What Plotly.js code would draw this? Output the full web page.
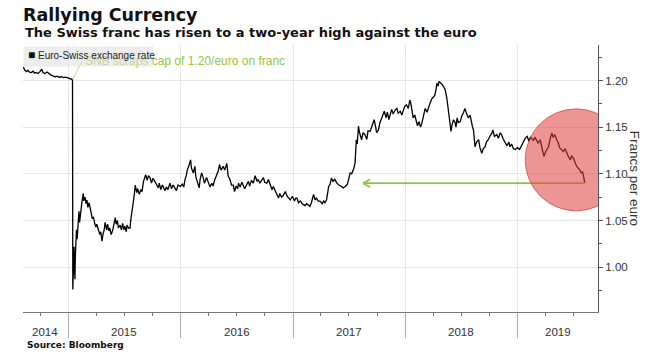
<!DOCTYPE html>
<html><head><meta charset="utf-8">
<script src="https://cdn.plot.ly/plotly-3.0.1.min.js"></script>
<style>html,body{margin:0;padding:0;background:#fff}#chart{width:655px;height:358px}</style>
</head><body><div id="chart"></div>
<script>
// ---- Data (EUR/CHF) ----
const dates2014 = ['2014-08-07','2014-08-12','2014-08-18','2014-08-22','2014-08-27','2014-09-02','2014-09-08','2014-09-12','2014-09-18','2014-09-24','2014-09-30','2014-10-06','2014-10-10','2014-10-16','2014-10-23','2014-10-29','2014-11-04','2014-11-11','2014-11-18','2014-11-25','2014-12-02','2014-12-09','2014-12-16','2014-12-23','2014-12-30'];
const rates2014 = [1.2143,1.2110,1.2095,1.2110,1.2090,1.2085,1.2100,1.2080,1.2085,1.2075,1.2095,1.2120,1.2085,1.2075,1.2090,1.2070,1.2060,1.2050,1.2040,1.2045,1.2035,1.2040,1.2030,1.2035,1.2025];

const dates2015 = ['2015-01-07','2015-01-14','2015-01-15','2015-01-16','2015-01-19','2015-01-21','2015-01-22','2015-01-23','2015-01-27','2015-01-29','2015-02-02','2015-02-04','2015-02-06','2015-02-10','2015-02-13','2015-02-18','2015-02-20','2015-02-24','2015-02-27','2015-03-02','2015-03-05','2015-03-09','2015-03-12','2015-03-16','2015-03-19','2015-03-23','2015-03-27','2015-03-31','2015-04-03','2015-04-08','2015-04-13','2015-04-16','2015-04-20','2015-04-23','2015-04-27','2015-04-30','2015-05-05','2015-05-08','2015-05-12','2015-05-15','2015-05-20','2015-05-25','2015-05-28','2015-06-02','2015-06-05','2015-06-09','2015-06-12','2015-06-18','2015-06-22','2015-06-26','2015-06-30','2015-07-03','2015-07-08','2015-07-10','2015-07-15','2015-07-20','2015-07-23','2015-07-27','2015-07-30','2015-08-03','2015-08-06','2015-08-11','2015-08-14','2015-08-19','2015-08-24','2015-08-28','2015-09-02','2015-09-09','2015-09-14','2015-09-18','2015-09-23','2015-09-28','2015-10-02','2015-10-05','2015-10-09','2015-10-15','2015-10-20','2015-10-23','2015-10-28','2015-11-02','2015-11-05','2015-11-10','2015-11-16','2015-11-20','2015-11-27','2015-12-02','2015-12-07','2015-12-14','2015-12-18','2015-12-23','2015-12-31'];
const rates2015 = [1.2020,1.2010,0.976,1.005,1.022,0.995,0.987,1.010,1.040,1.030,1.052,1.060,1.048,1.062,1.068,1.079,1.071,1.075,1.068,1.072,1.064,1.069,1.065,1.058,1.052,1.054,1.047,1.043,1.046,1.040,1.035,1.038,1.028,1.035,1.040,1.048,1.040,1.046,1.039,1.042,1.035,1.040,1.045,1.053,1.046,1.050,1.042,1.045,1.040,1.047,1.040,1.044,1.038,1.045,1.042,1.042,1.052,1.065,1.068,1.078,1.088,1.080,1.084,1.078,1.083,1.081,1.092,1.099,1.093,1.098,1.096,1.090,1.095,1.094,1.092,1.088,1.085,1.090,1.083,1.088,1.0865,1.082,1.086,1.083,1.090,1.084,1.088,1.085,1.082,1.088,1.0865];

const dates2016 = ['2016-01-06','2016-01-11','2016-01-15','2016-01-19','2016-01-22','2016-01-27','2016-02-02','2016-02-05','2016-02-11','2016-02-16','2016-02-19','2016-02-24','2016-03-01','2016-03-04','2016-03-09','2016-03-14','2016-03-18','2016-03-25','2016-03-30','2016-04-05','2016-04-11','2016-04-15','2016-04-21','2016-04-27','2016-05-02','2016-05-06','2016-05-11','2016-05-18','2016-05-23','2016-05-30','2016-06-03','2016-06-09','2016-06-14','2016-06-20','2016-06-24','2016-06-29','2016-07-04','2016-07-07','2016-07-12','2016-07-18','2016-07-22','2016-07-27','2016-08-02','2016-08-08','2016-08-12','2016-08-18','2016-08-24','2016-08-30','2016-09-05','2016-09-09','2016-09-14','2016-09-20','2016-09-26','2016-09-30','2016-10-07','2016-10-12','2016-10-18','2016-10-24','2016-10-28','2016-11-03','2016-11-09','2016-11-14','2016-11-18','2016-11-24','2016-11-30','2016-12-06','2016-12-12','2016-12-16','2016-12-22','2016-12-29'];
const rates2016 = [1.089,1.086,1.094,1.098,1.104,1.108,1.115,1.106,1.101,1.108,1.097,1.090,1.085,1.094,1.101,1.096,1.090,1.096,1.092,1.086,1.090,1.087,1.094,1.100,1.103,1.110,1.104,1.108,1.104,1.111,1.098,1.094,1.088,1.088,1.081,1.087,1.084,1.090,1.086,1.091,1.088,1.084,1.088,1.092,1.087,1.093,1.090,1.098,1.092,1.094,1.090,1.093,1.096,1.091,1.090,1.094,1.088,1.083,1.0865,1.082,1.078,1.074,1.079,1.075,1.077,1.081,1.076,1.074,1.072,1.076];

const dates2017 = ['2017-01-05','2017-01-09','2017-01-13','2017-01-18','2017-01-24','2017-01-30','2017-02-03','2017-02-08','2017-02-14','2017-02-20','2017-02-24','2017-03-01','2017-03-08','2017-03-13','2017-03-17','2017-03-23','2017-03-30','2017-04-05','2017-04-10','2017-04-14','2017-04-19','2017-04-24','2017-04-26','2017-05-01','2017-05-05','2017-05-10','2017-05-16','2017-05-23','2017-05-29','2017-06-05','2017-06-12','2017-06-19','2017-06-26','2017-06-30','2017-07-05','2017-07-10','2017-07-17','2017-07-21','2017-07-25','2017-07-28','2017-08-01','2017-08-04','2017-08-08','2017-08-11','2017-08-16','2017-08-22','2017-08-28','2017-09-01','2017-09-08','2017-09-13','2017-09-18','2017-09-21','2017-09-26','2017-09-29','2017-10-05','2017-10-10','2017-10-16','2017-10-20','2017-10-24','2017-10-30','2017-11-03','2017-11-08','2017-11-13','2017-11-17','2017-11-22','2017-11-29','2017-12-04','2017-12-08','2017-12-15','2017-12-20','2017-12-29'];
const rates2017 = [1.071,1.074,1.074,1.069,1.071,1.068,1.067,1.066,1.068,1.066,1.065,1.069,1.078,1.072,1.074,1.071,1.0705,1.068,1.071,1.069,1.072,1.082,1.0865,1.089,1.0955,1.092,1.094,1.090,1.088,1.087,1.085,1.0865,1.089,1.094,1.101,1.100,1.106,1.112,1.1365,1.132,1.151,1.145,1.140,1.1365,1.144,1.142,1.137,1.146,1.1455,1.150,1.154,1.158,1.150,1.144,1.147,1.155,1.160,1.163,1.167,1.160,1.166,1.158,1.165,1.169,1.164,1.1686,1.170,1.165,1.167,1.163,1.172];

const dates2018 = ['2018-01-04','2018-01-10','2018-01-15','2018-01-18','2018-01-23','2018-01-26','2018-01-31','2018-02-05','2018-02-09','2018-02-14','2018-02-19','2018-02-23','2018-02-28','2018-03-06','2018-03-12','2018-03-16','2018-03-22','2018-03-27','2018-04-02','2018-04-06','2018-04-10','2018-04-13','2018-04-17','2018-04-20','2018-04-26','2018-05-02','2018-05-07','2018-05-10','2018-05-15','2018-05-18','2018-05-21','2018-05-25','2018-05-29','2018-06-01','2018-06-06','2018-06-11','2018-06-14','2018-06-18','2018-06-22','2018-06-28','2018-07-03','2018-07-09','2018-07-13','2018-07-18','2018-07-24','2018-07-30','2018-08-03','2018-08-07','2018-08-10','2018-08-15','2018-08-20','2018-08-27','2018-08-31','2018-09-06','2018-09-11','2018-09-17','2018-09-21','2018-09-27','2018-10-02','2018-10-08','2018-10-12','2018-10-17','2018-10-25','2018-10-30','2018-11-05','2018-11-09','2018-11-15','2018-11-21','2018-11-27','2018-12-03','2018-12-07','2018-12-12','2018-12-18','2018-12-24','2018-12-31'];
const rates2018 = [1.174,1.170,1.179,1.176,1.166,1.160,1.163,1.155,1.1515,1.156,1.150,1.154,1.160,1.170,1.166,1.171,1.176,1.180,1.183,1.184,1.190,1.197,1.194,1.199,1.197,1.195,1.192,1.190,1.182,1.175,1.163,1.155,1.1455,1.152,1.158,1.155,1.150,1.160,1.155,1.156,1.162,1.166,1.170,1.165,1.160,1.163,1.155,1.150,1.147,1.129,1.134,1.1365,1.128,1.122,1.127,1.129,1.134,1.1365,1.140,1.143,1.147,1.140,1.142,1.138,1.144,1.142,1.137,1.133,1.130,1.134,1.129,1.132,1.127,1.126,1.128];

const dates2019 = ['2019-01-07','2019-01-11','2019-01-16','2019-01-21','2019-01-25','2019-02-01','2019-02-06','2019-02-11','2019-02-15','2019-02-21','2019-02-26','2019-03-04','2019-03-08','2019-03-15','2019-03-20','2019-03-25','2019-03-27','2019-04-02','2019-04-08','2019-04-11','2019-04-16','2019-04-22','2019-04-26','2019-05-02','2019-05-07','2019-05-13','2019-05-17','2019-05-24','2019-05-29','2019-06-04','2019-06-10','2019-06-14','2019-06-21','2019-06-25','2019-07-01','2019-07-05','2019-07-09','2019-07-12','2019-07-17','2019-07-22','2019-07-26','2019-07-31','2019-08-05','2019-08-07'];
const rates2019 = [1.126,1.129,1.132,1.1347,1.138,1.140,1.135,1.139,1.138,1.136,1.139,1.135,1.133,1.1365,1.130,1.122,1.1186,1.124,1.127,1.129,1.137,1.1437,1.139,1.142,1.137,1.133,1.128,1.126,1.124,1.127,1.122,1.119,1.115,1.119,1.117,1.112,1.110,1.108,1.106,1.104,1.101,1.102,1.094,1.090];

const yearLabels = ['2014','2015','2016','2017','2018','2019'];
const yearLabelDates = ['2014-10-18','2015-07-02','2016-07-02','2017-07-02','2018-07-02','2019-05-11'];
const yTickVals = [1.00, 1.05, 1.10, 1.15, 1.20];

const snbDate = '2015-01-14', snbRate = 1.2010;
const arrowTipDate = '2017-08-16', arrowTailDate = '2019-08-07', arrowLevel = 1.09;
const circleDate = '2019-07-10', circleRate = 1.115;

const dates = [].concat(dates2014, dates2015, dates2016, dates2017, dates2018, dates2019);
const rates = [].concat(rates2014, rates2015, rates2016, rates2017, rates2018, rates2019);

const green = '#8cc63f';
const tickFont = {family: 'Liberation Sans, Arial, sans-serif', size: 11.5, color: '#333'};

const trace = {
  x: dates, y: rates, type: 'scatter', mode: 'lines',
  line: {color: '#000', width: 1.3}, hoverinfo: 'skip', showlegend: false
};

const annotations = [];
yearLabels.forEach((t, i) => annotations.push({
  text: t, x: yearLabelDates[i], xref: 'x', y: -0.075, yref: 'paper',
  xanchor: 'center', yanchor: 'middle', showarrow: false, font: tickFont
}));
annotations.push({
  text: '<b>The Swiss franc has risen to a two-year high against the euro</b>',
  x: 0, xref: 'paper', y: 1.048, yref: 'paper', xanchor: 'left', yanchor: 'middle',
  showarrow: false, font: {family: 'DejaVu Sans', size: 13, color: '#111'}
});
annotations.push({
  text: '<b>Source: Bloomberg</b>',
  x: 0.003, xref: 'paper', y: -0.123, yref: 'paper', xanchor: 'left', yanchor: 'middle',
  showarrow: false, font: {family: 'DejaVu Sans', size: 9, color: '#111'}
});
annotations.push({
  text: 'Francs per euro', textangle: 90,
  x: 1.064, xref: 'paper', y: 0.5, yref: 'paper', xanchor: 'center', yanchor: 'middle',
  showarrow: false, font: {family: 'Liberation Sans, Arial, sans-serif', size: 13.5, color: '#333'}
});
annotations.push({
  text: 'SNB scraps cap of 1.20/euro on franc',
  x: snbDate, xref: 'x', y: snbRate, yref: 'y',
  ax: 10, ay: -19, xanchor: 'left', yanchor: 'middle',
  showarrow: true, arrowhead: 0, arrowwidth: 0.8, arrowcolor: '#a6d160',
  font: {family: 'Liberation Sans, Arial, sans-serif', size: 12, color: '#94c83e'}
});
// legend panel background
annotations.push({
  text: ' ',
  x: 0, xref: 'paper', y: 0.9963, yref: 'paper', xanchor: 'left', yanchor: 'top',
  width: 123, height: 13, borderpad: 3,
  bgcolor: 'rgba(225,225,225,0.6)', showarrow: false,
  font: {family: 'Liberation Sans, Arial, sans-serif', size: 10, color: '#222'}
});
annotations.push({
  text: '\u25A0',
  x: 0.0146, xref: 'paper', y: 0.961, yref: 'paper', xanchor: 'center', yanchor: 'middle',
  showarrow: false, font: {family: 'Liberation Sans, Arial, sans-serif', size: 12, color: '#111'}
});
annotations.push({
  text: 'Euro-Swiss exchange rate',
  x: 0.0226, xref: 'paper', y: 0.961, yref: 'paper', xanchor: 'left', yanchor: 'middle',
  showarrow: false, font: {family: 'Liberation Sans, Arial, sans-serif', size: 10, color: '#222'}
});

const shapes = [
  {type: 'line', xref: 'x', yref: 'y', x0: arrowTipDate, x1: arrowTailDate, y0: arrowLevel, y1: arrowLevel,
   line: {color: green, width: 1.8}, layer: 'above'},
  {type: 'line', xref: 'x', yref: 'y', xsizemode: 'pixel', ysizemode: 'pixel',
   xanchor: arrowTipDate, yanchor: arrowLevel, x0: 0, y0: 0, x1: 7, y1: 4,
   line: {color: green, width: 1.8}, layer: 'above'},
  {type: 'line', xref: 'x', yref: 'y', xsizemode: 'pixel', ysizemode: 'pixel',
   xanchor: arrowTipDate, yanchor: arrowLevel, x0: 0, y0: 0, x1: 7, y1: -4,
   line: {color: green, width: 1.8}, layer: 'above'},
  {type: 'circle', xref: 'x', yref: 'y', xsizemode: 'pixel', ysizemode: 'pixel',
   xanchor: circleDate, yanchor: circleRate, x0: -51, x1: 51, y0: -51, y1: 51,
   fillcolor: 'rgba(222,60,60,0.55)', line: {color: 'rgba(190,40,40,0.55)', width: 1}, layer: 'above'}
];

const layout = {
  width: 655, height: 358,
  margin: {l: 23, r: 57, t: 45, b: 46, pad: 0},
  paper_bgcolor: '#fff', plot_bgcolor: '#fff',
  showlegend: false,
  title: {
    text: '<b>Rallying Currency</b>',
    font: {family: 'DejaVu Sans', size: 17.5, color: '#111'},
    x: 0, xref: 'paper', xanchor: 'left',
    y: 1 - 9/358, yref: 'container', yanchor: 'top'
  },
  xaxis: {
    type: 'date', range: ['2014-08-06', '2019-09-19'],
    tick0: '2015-01-01', dtick: 'M12', ticks: 'outside', ticklen: 25, tickcolor: '#aaa', tickwidth: 1,
    showticklabels: false, showgrid: true, gridcolor: '#e6e6e6', gridwidth: 1,
    showline: true, linecolor: '#777', linewidth: 1, zeroline: false,
    minor: {tick0: '2014-10-01', dtick: 'M3', ticks: 'outside', ticklen: 3, tickcolor: '#777', showgrid: false},
    fixedrange: true
  },
  yaxis: {
    side: 'right', range: [0.952, 1.238],
    tickvals: yTickVals, tickformat: '.2f', ticks: 'outside', ticklen: 4, tickcolor: '#555',
    tickfont: tickFont, showgrid: true, gridcolor: '#e6e6e6', gridwidth: 1,
    showline: true, linecolor: '#555', linewidth: 1, zeroline: false,
    minor: {tick0: 0.975, dtick: 0.05, ticks: 'outside', ticklen: 3, tickcolor: '#555', showgrid: false},
    fixedrange: true
  },
  annotations: annotations,
  shapes: shapes
};

Plotly.newPlot('chart', [trace], layout, {displayModeBar: false, staticPlot: true});
</script></body></html>
